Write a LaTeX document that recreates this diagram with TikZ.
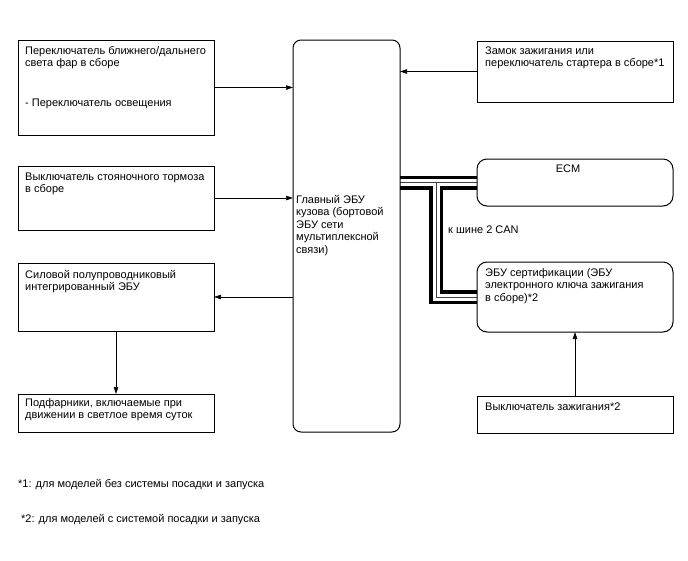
\documentclass[tikz,border=0pt]{standalone}
\usepackage{fontspec}
\setmainfont{Liberation Sans}
\usetikzlibrary{arrows.meta,backgrounds}
\newcommand{\ts}{\rule{0pt}{9pt}}
\begin{document}
\begin{tikzpicture}[x=1pt,y=-1pt,
  box/.style={draw, line width=0.8pt, anchor=north west, inner sep=0pt, outer sep=0pt},
  rbox/.style={box, line width=1pt, rounded corners=10pt},
  txt/.style={anchor=north west, inner sep=0pt, align=left, font=\fontsize{11}{12.5}\selectfont},
  arr/.style={-{Triangle[length=7pt,width=4.5pt]}, line width=0.6pt},
  busout/.style={line width=14pt, black},
  busmid/.style={line width=7pt, white},
  busin/.style={line width=0.8pt, black!75}]
\useasboundingbox (0,0) rectangle (688,560);

% left column
\node[box, minimum width=196pt, minimum height=95pt] (b1) at (18,40) {};
\node[box, minimum width=196pt, minimum height=64pt] (b2) at (18,166) {};
\node[box, minimum width=196pt, minimum height=68pt] (b3) at (18,263) {};
\node[box, minimum width=196pt, minimum height=38pt] (b4) at (18,394) {};

% main ECU
\node[box, line width=1pt, rounded corners=8pt, minimum width=107pt, minimum height=392pt] (main) at (293,40) {};

% right column
\node[box, minimum width=196pt, minimum height=61pt] (zam) at (477,41) {};
\node[rbox, minimum width=196pt, minimum height=47pt] (ecm) at (477,159) {};
\node[rbox, minimum width=196pt, minimum height=70pt] (cert) at (477,262) {};
\node[box, minimum width=196pt, minimum height=37pt] (ign) at (477,396) {};

% texts
\node[txt] (t1) at (25,45) {\ts Переключатель ближнего/дальнего\\света фар в сборе\\[27pt]- Переключатель освещения};
\node[txt] (t2) at (25,171) {\ts Выключатель стояночного тормоза\\в сборе};
\node[txt] (t3) at (25,269) {\ts Силовой полупроводниковый\\интегрированный ЭБУ};
\node[txt] (t4) at (25,397) {\ts Подфарники, включаемые при\\движении в светлое время суток};
\node[txt] (tmain) at (296,194) {\ts Главный ЭБУ\\кузова (бортовой\\ЭБУ сети\\мультиплексной\\связи)};
\node[txt] (tz) at (485,45) {\ts Замок зажигания или\\переключатель стартера в сборе*1};
\node[txt, anchor=base] (tecm) at (568,172) {ECM};
\node[txt] (tcert) at (485,267) {\ts ЭБУ сертификации (ЭБУ\\электронного ключа зажигания\\в сборе)*2};
\node[txt] (tign) at (485,401) {\ts Выключатель зажигания*2};
\node[txt] (tcan) at (448,224) {\ts к шине 2 CAN};
\node[txt] (f1) at (18,478) {\ts *1: для моделей без системы посадки и запуска};
\node[txt] (f2) at (21,513) {\ts *2: для моделей с системой посадки и запуска};

% arrows
\draw[arr] (b1.east) -- (b1.east -| main.west);
\draw[arr] (b2.east) -- (b2.east -| main.west);
\draw[arr] (b3.east -| main.west) -- (b3.east);
\draw[arr] (b3.south) -- (b4.north);
\draw[arr] (zam.west) -- (zam.west -| main.east);
\draw[arr] (ign.north) -- (ign.north |- cert.south);

% CAN bus
\coordinate (jn) at (436,0);
\begin{scope}[on background layer]
  \draw[busout] (main.east |- ecm.west) -- (ecm.west);
  \draw[busout] (jn |- ecm.west) -- (jn |- cert.west) -- (cert.west);
  \draw[busmid] (main.east |- ecm.west) -- (ecm.west);
  \draw[busmid] (jn |- ecm.west) -- (jn |- cert.west) -- (cert.west);
  \draw[busin] (main.east |- ecm.west) -- (ecm.west);
  \draw[busin] (jn |- ecm.west) -- (jn |- cert.west) -- (cert.west);
\end{scope}
\end{tikzpicture}
\end{document}
